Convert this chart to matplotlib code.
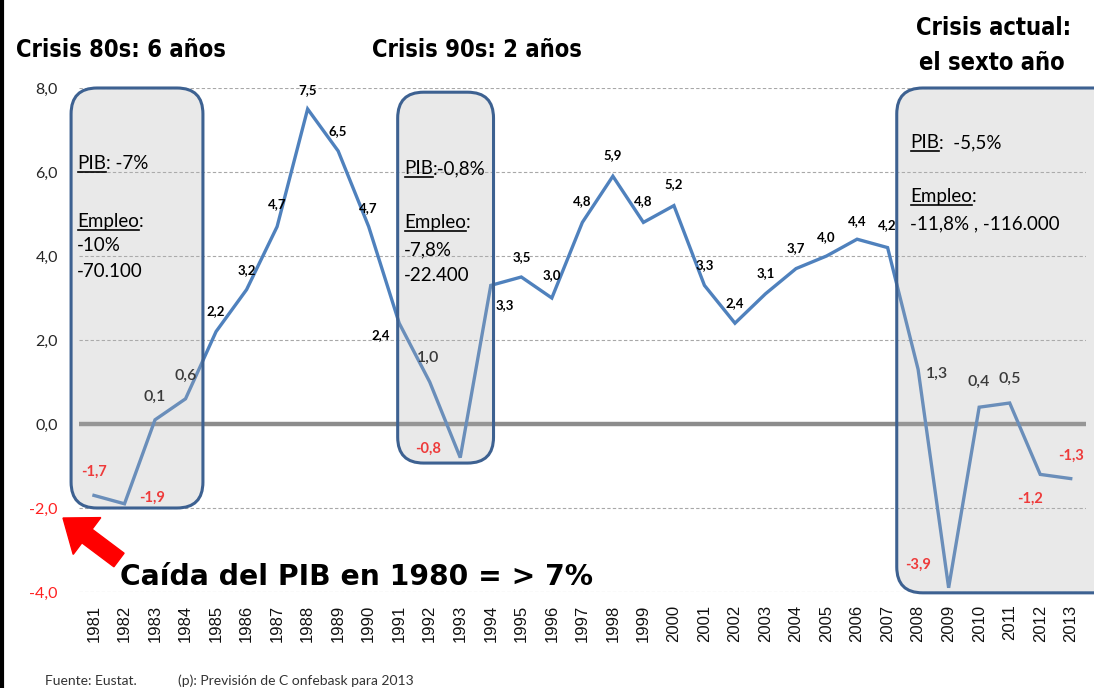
import matplotlib
matplotlib.use("Agg")
import matplotlib.pyplot as plt
from matplotlib.patches import FancyBboxPatch, FancyArrow
from matplotlib.transforms import IdentityTransform
from matplotlib.lines import Line2D

# ---------------- data ----------------
years = list(range(1981, 2014))
pib = [-1.7, -1.9, 0.1, 0.6, 2.2, 3.2, 4.7, 7.5, 6.5, 4.7, 2.4, 1.0, -0.8,
       3.3, 3.5, 3.0, 4.8, 5.9, 4.8, 5.2, 3.3, 2.4, 3.1, 3.7, 4.0, 4.4, 4.2,
       1.3, -3.9, 0.4, 0.5, -1.2, -1.3]
yticks = [-4, -2, 0, 2, 4, 6, 8]
ytick_labels = ["-4,0", "-2,0", "0,0", "2,0", "4,0", "6,0", "8,0"]

# label styles: 'b' bold black, 'g' gray regular, 'r' red bold
label_style = ['r', 'r', 'g', 'g', 'b', 'b', 'b', 'b', 'b', 'b', 'b', 'g', 'r',
               'b', 'b', 'b', 'b', 'b', 'b', 'b', 'b', 'b', 'b', 'b', 'b', 'b', 'b',
               'g', 'r', 'g', 'g', 'r', 'r']
# label offsets in pixels (dx, dy), dy positive = up
label_off = [(0, 24), (28, 6), (0, 23), (0, 23), (0, 21), (0, 20), (0, 23), (0, 19),
             (0, 20), (0, 19), (-18, -12), (-2, 24), (-32, 9),
             (14, -20), (0, 20), (0, 23), (0, 21), (0, 21), (0, 21), (0, 22),
             (0, 20), (0, 20), (0, 21), (0, 21), (0, 19), (0, 18), (0, 23),
             (19, -4), (-31, 23), (0, 25), (0, 24), (-10, -24), (0, 23)]

# crisis boxes: (x0, x1, y0, y1) in data units
boxes = [(1980.25, 1984.57, -2.0, 8.0),
         (1990.95, 1994.09, -0.93, 7.9),
         (2007.3, 2014.6, -4.02, 8.0)]

W, H = 1094, 688
fig = plt.figure(figsize=(W / 100, H / 100), dpi=100)
fig.patch.set_facecolor("white")
ax_left, ax_right, ax_top, ax_bot = 78.7, 1086, 88, 592
ax = fig.add_axes([ax_left / W, 1 - ax_bot / H, (ax_right - ax_left) / W, (ax_bot - ax_top) / H])
ax.set_xlim(1980.5, 2013.5)
ax.set_ylim(-4, 8)
for s in ax.spines.values():
    s.set_visible(False)
ax.set_facecolor("none")

for yv in yticks:
    if yv != 0:
        ax.axhline(yv, color="#a8a8a8", lw=0.8, ls=(0, (3, 2)), zorder=1)
ax.axhline(0, color="#8c8c8c", lw=3.2, zorder=2)

ax.plot(years, pib, color="#4f81bd", lw=2.4, zorder=3, solid_joinstyle="miter")

ax.set_xticks(years)
ax.set_xticklabels([str(y) for y in years], rotation=90, fontsize=12,
                   family="Liberation Sans", color="#111111")
ax.set_yticks(yticks)
ax.set_yticklabels(ytick_labels, fontsize=11.5, family="Lato")
for lbl, yv in zip(ax.get_yticklabels(), yticks):
    lbl.set_color("#ff2020" if yv < 0 else "#262626")
ax.tick_params(length=0)
ax.tick_params(axis="x", pad=9)
ax.tick_params(axis="y", pad=15)

# boxes
px_per_x = (ax_right - ax_left) / 33.0
px_per_y = (ax_bot - ax_top) / 12.0
for (x0, x1, y0, y1) in boxes:
    p = FancyBboxPatch((x0, y0), x1 - x0, y1 - y0,
                       boxstyle="round,pad=0,rounding_size=0.85",
                       mutation_aspect=px_per_x / px_per_y,
                       facecolor=(0.70, 0.70, 0.70, 0.28), edgecolor="#3d6191",
                       lw=2.2, zorder=4, clip_on=False)
    ax.add_patch(p)

# data labels
styles = {
    'b': dict(color="black", fontweight="bold", fontsize=9.5),
    'g': dict(color="#3a3a3a", fontweight="semibold", fontsize=11.5),
    'r': dict(color="#ee3a3a", fontweight="bold", fontsize=10.5),
}
for x, v, st, (dx, dy) in zip(years, pib, label_style, label_off):
    ax.annotate(f"{v:.1f}".replace(".", ","), (x, v), xytext=(dx * 0.72, dy * 0.72),
                textcoords="offset points", ha="center", va="center",
                family="Lato", zorder=6, **styles[st])

def fx(x):
    return x / W
def fy(y):
    return 1 - y / H

# titles: condensed bold face
tprops = dict(fontsize=17, fontweight="bold", family="DejaVu Sans", fontstretch="condensed")
fig.text(fx(121), fy(50), "Crisis 80s: 6 años", ha="center", va="center", **tprops)
fig.text(fx(477), fy(50), "Crisis 90s: 2 años", ha="center", va="center", **tprops)
fig.text(fx(994), fy(28), "Crisis actual:", ha="center", va="center", **tprops)
fig.text(fx(992), fy(63), "el sexto año", ha="center", va="center", **tprops)

fig.text(fx(120), fy(577), "Caída del PIB en 1980 = > 7%", ha="left", va="center",
         fontsize=20.3, fontweight="bold", family="DejaVu Sans", color="black")

fig.text(fx(45), fy(681), "Fuente: Eustat.", ha="left", va="center",
         fontsize=10, family="Lato", color="#333333")
fig.text(fx(178), fy(681), "(p): Previsión de C onfebask para 2013", ha="left",
         va="center", fontsize=10, family="Lato", color="#333333")

# red arrow (pixel coordinates, bottom-left origin)
arr = FancyArrow(119, H - 560, -56, 42, width=17, head_width=46,
                 head_length=30, length_includes_head=True,
                 color="#ff0000", transform=IdentityTransform())
fig.add_artist(arr)

# left black border
fig.add_artist(Line2D([fx(2), fx(2)], [0, 1], color="black", lw=3,
                      transform=fig.transFigure))

# box texts with underlined keywords (y = baseline, top-left pixel coords)
box_texts = [
    (77, [(169, "PIB", ": -7%"), (227, "Empleo", ":"), (251, None, "-10%"), (277, None, "-70.100")]),
    (404, [(174, "PIB", ":-0,8%"), (228, "Empleo", ":"), (255, None, "-7,8%"), (281, None, "-22.400")]),
    (910, [(148, "PIB", ":  -5,5%"), (202, "Empleo", ":"), (229, None, "-11,8% , -116.000")]),
]
fig.canvas.draw()
renderer = fig.canvas.get_renderer()
bfont = dict(fontsize=13.5, family="Lato", color="black", zorder=7)
for x0, lines in box_texts:
    for (yy, ul, rest) in lines:
        xx = x0
        if ul:
            t = fig.text(x0, H - yy, ul, ha="left", va="baseline",
                         transform=IdentityTransform(), **bfont)
            bb = t.get_window_extent(renderer)
            fig.add_artist(Line2D([bb.x0 + 1, bb.x1], [H - yy - 3, H - yy - 3], color="black",
                                  lw=1.2, transform=IdentityTransform()))
            xx = bb.x1
        fig.text(xx, H - yy, rest, ha="left", va="baseline",
                 transform=IdentityTransform(), **bfont)

fig.savefig("out.png", dpi=100)
